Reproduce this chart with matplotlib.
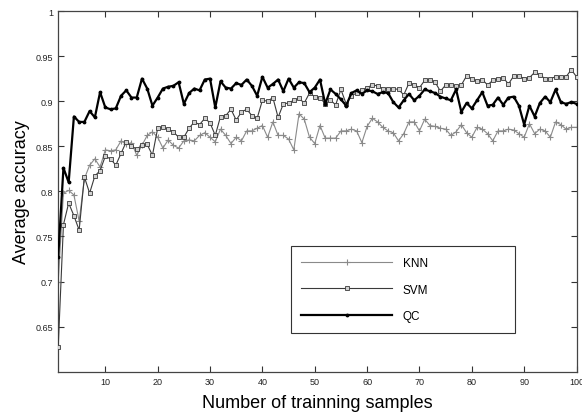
import numpy as np
import matplotlib
matplotlib.use("Agg")
import matplotlib.pyplot as plt

# -----------------------------
# Data
# -----------------------------

samples = np.arange(1, 101)

knn = [
    0.700, 0.798, 0.801, 0.796, 0.767, 0.814, 0.829, 0.836, 0.827, 0.846,
    0.845, 0.846, 0.856, 0.852, 0.854, 0.840, 0.851, 0.862, 0.866, 0.860,
    0.848, 0.857, 0.851, 0.848, 0.856, 0.857, 0.856, 0.862, 0.865, 0.860,
    0.855, 0.869, 0.862, 0.853, 0.860, 0.856, 0.867, 0.867, 0.870, 0.873,
    0.860, 0.877, 0.862, 0.862, 0.858, 0.846, 0.886, 0.880, 0.860, 0.853,
    0.873, 0.859, 0.859, 0.859, 0.867, 0.867, 0.869, 0.867, 0.854, 0.872,
    0.881, 0.877, 0.871, 0.867, 0.865, 0.856, 0.864, 0.877, 0.877, 0.867,
    0.880, 0.873, 0.872, 0.870, 0.869, 0.862, 0.866, 0.874, 0.865, 0.860,
    0.871, 0.869, 0.864, 0.856, 0.867, 0.867, 0.869, 0.868, 0.864, 0.860,
    0.875, 0.864, 0.869, 0.867, 0.860, 0.877, 0.874, 0.869, 0.871, 0.871,
]

svm = [
    0.627, 0.763, 0.787, 0.773, 0.757, 0.816, 0.798, 0.817, 0.823, 0.839,
    0.836, 0.829, 0.842, 0.855, 0.850, 0.847, 0.851, 0.852, 0.840, 0.870,
    0.871, 0.869, 0.866, 0.860, 0.860, 0.870, 0.877, 0.874, 0.881, 0.876,
    0.862, 0.883, 0.884, 0.891, 0.879, 0.888, 0.891, 0.884, 0.881, 0.901,
    0.900, 0.904, 0.882, 0.897, 0.898, 0.901, 0.903, 0.898, 0.909, 0.905,
    0.904, 0.897, 0.901, 0.896, 0.913, 0.897, 0.906, 0.909, 0.912, 0.915,
    0.918, 0.917, 0.914, 0.914, 0.914, 0.913, 0.907, 0.920, 0.918, 0.915,
    0.923, 0.924, 0.921, 0.911, 0.918, 0.918, 0.917, 0.918, 0.928, 0.925,
    0.922, 0.924, 0.918, 0.923, 0.925, 0.926, 0.919, 0.928, 0.928, 0.925,
    0.926, 0.932, 0.929, 0.925, 0.925, 0.927, 0.927, 0.927, 0.935, 0.927,
]

qc = [
    0.727, 0.826, 0.810, 0.883, 0.877, 0.877, 0.889, 0.882, 0.910, 0.893,
    0.891, 0.892, 0.906, 0.912, 0.904, 0.904, 0.925, 0.914, 0.895, 0.904,
    0.914, 0.916, 0.917, 0.921, 0.897, 0.909, 0.914, 0.912, 0.924, 0.925,
    0.893, 0.922, 0.915, 0.914, 0.920, 0.918, 0.924, 0.917, 0.906, 0.927,
    0.915, 0.919, 0.924, 0.911, 0.925, 0.915, 0.921, 0.920, 0.910, 0.915,
    0.924, 0.897, 0.913, 0.908, 0.902, 0.895, 0.909, 0.912, 0.908, 0.912,
    0.911, 0.908, 0.910, 0.909, 0.899, 0.893, 0.901, 0.908, 0.901, 0.906,
    0.913, 0.911, 0.909, 0.905, 0.903, 0.901, 0.913, 0.888, 0.898, 0.892,
    0.901, 0.910, 0.895, 0.896, 0.904, 0.896, 0.904, 0.905, 0.895, 0.874,
    0.895, 0.883, 0.898, 0.905, 0.899, 0.913, 0.899, 0.897, 0.899, 0.897,
]

x_ticks = [10, 20, 30, 40, 50, 60, 70, 80, 90, 100]
y_ticks = [0.65, 0.7, 0.75, 0.8, 0.85, 0.9, 0.95, 1.0]

# -----------------------------
# Plot
# -----------------------------

plt.rcParams["font.family"] = ["Liberation Sans", "DejaVu Sans"]

fig = plt.figure(figsize=(5.82, 4.14), dpi=100)
ax = fig.add_axes([0.100, 0.0998, 0.8906, 0.8712])

ax.plot(samples, knn, color="#8a8a8a", linewidth=0.8, marker="+",
        markersize=5, markeredgewidth=0.8, label="KNN", zorder=2)
ax.plot(samples, svm, color="#3a3a3a", linewidth=0.8, marker="s",
        markersize=2.6, markerfacecolor="#d0d0d0", markeredgecolor="#3a3a3a",
        markeredgewidth=0.6, label="SVM", zorder=3)
ax.plot(samples, qc, color="black", linewidth=1.6, marker=".",
        markersize=3.5, label="QC", zorder=4)

ax.set_xlim(1, 100)
ax.set_ylim(0.6, 1.0)
ax.set_xticks(x_ticks)
ax.set_xticklabels([str(t) for t in x_ticks])
ax.set_yticks(y_ticks)
ax.set_yticklabels(["%g" % t for t in y_ticks])

ax.tick_params(direction="in", length=4, width=0.8, labelsize=6.5,
               top=True, right=True, colors="#333333", labelcolor="#222222")
for spine in ax.spines.values():
    spine.set_color("#444444")
    spine.set_linewidth(0.9)

ax.set_xlabel("Number of trainning samples", fontsize=13, labelpad=6)
ax.set_ylabel("Average accuracy", fontsize=13, labelpad=4)

# legend box placed in figure coords, stretched to the reference width
leg = ax.legend(loc="upper left", bbox_to_anchor=(0.4995, 0.196, 0.385, 0.207),
                bbox_transform=fig.transFigure, mode="expand",
                numpoints=1, fontsize=8.5, handlelength=7.7, handletextpad=0.9,
                labelspacing=1.25, borderpad=0.9, borderaxespad=0,
                fancybox=False, framealpha=1, edgecolor="#333333")
leg.get_frame().set_linewidth(0.8)

plt.savefig("out.png", dpi=100)
